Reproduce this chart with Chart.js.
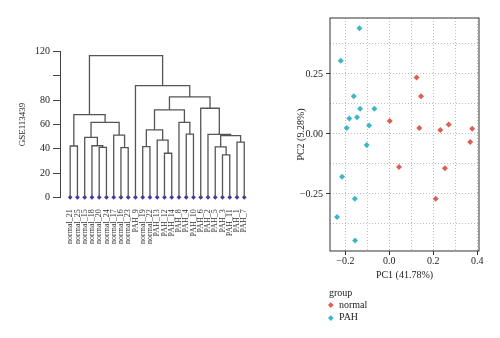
<!DOCTYPE html>
<html>
<head>
<meta charset="utf-8">
<script src="https://cdn.jsdelivr.net/npm/chart.js@4/dist/chart.umd.min.js"></script>
<style>
  html, body { margin: 0; padding: 0; background: #ffffff; }
  body { width: 500px; height: 338px; position: relative; overflow: hidden; font-family: "Liberation Serif", "DejaVu Serif", serif; color: #222; }
  #dendro { position: absolute; left: 0; top: 0; }
  #pca { position: absolute; left: 260px; top: 0; }
  .lg { position: absolute; font-size: 10px; line-height: 12px; white-space: nowrap; }
  .mk { position: absolute; width: 3.6px; height: 3.6px; transform: rotate(45deg); }
</style>
</head>
<body>
<canvas id="dendro" width="258" height="338"></canvas>
<canvas id="pca" width="240" height="338"></canvas>
<div class="lg" style="left:329px; top:287px;">group</div>
<div class="mk" style="left:329.2px; top:303.2px; background:#dd5e57;"></div>
<div class="lg" style="left:339px; top:299px;">normal</div>
<div class="mk" style="left:329.2px; top:315.5px; background:#3db6c8;"></div>
<div class="lg" style="left:339px; top:311.3px;">PAH</div>
<script>
// ---------- Dendrogram data ----------
const leafLabels = ['normal_21','normal_25','normal_15','normal_18','normal_20','normal_24','normal_17','normal_16','normal_23',
  'PAH_9','normal_19','normal_22','PAH_13','PAH_12','PAH_14','PAH_8','PAH_4','PAH_10','PAH_6','PAH_2','PAH_5','PAH_3','PAH_11','PAH_1','PAH_7'];
// merge steps: string = leaf, number = earlier merge index
const mergeA = ['normal_21','normal_20','normal_18','normal_15','normal_16','normal_17',3,0,
  'normal_19','PAH_12','PAH_13',8,'PAH_4','PAH_8',11,'PAH_3','PAH_5','PAH_1',16,'PAH_2','PAH_6',14,'PAH_9',7];
const mergeB = ['normal_25','normal_24',1,2,'normal_23',4,5,6,
  'normal_22','PAH_14',9,10,'PAH_10',12,13,'PAH_11',15,'PAH_7',17,18,19,20,21,22];
const mergeHeight = [42.3,41.2,42.5,49.4,40.9,51.3,61.8,68.1,
  41.7,36.3,47.2,55.5,52.0,61.8,72.1,34.9,41.5,45.5,50.8,51.9,73.4,82.7,92.0,116.7];
const dendroYTicks = [0,20,40,60,80,100,120];
const dendroYLabels = ['0','20','40','60','80','','120'];

// ---------- PCA data ----------
const normalPC1 = [0.002, 0.124, 0.144, 0.136, 0.232, 0.270, 0.377, 0.368, 0.044, 0.253, 0.211];
const normalPC2 = [0.054, 0.235, 0.157, 0.025, 0.017, 0.039, 0.022, -0.033, -0.138, -0.143, -0.270];
const pahPC1 = [-0.136, -0.221, -0.162, -0.133, -0.068, -0.182, -0.147, -0.194, -0.092, -0.103, -0.215, -0.157, -0.238, -0.156];
const pahPC2 = [0.440, 0.305, 0.157, 0.105, 0.105, 0.064, 0.070, 0.025, 0.035, -0.046, -0.178, -0.270, -0.346, -0.444];
const pcaXTicks = [-0.2,-0.1,0,0.1,0.2,0.3,0.4];
const pcaXLabels = ['\u22120.2','','0.0','','0.2','','0.4'];
const pcaYTicks = [-0.375,-0.25,-0.125,0,0.125,0.25,0.375];
const pcaYLabels = ['','\u22120.25','','0.00','','0.25',''];

const SERIF = '"Liberation Serif", "DejaVu Serif", serif';
Chart.defaults.font.family = SERIF;
Chart.defaults.color = '#222';

// ---------- build dendrogram ----------
const nodes = [];
function pos(ref) {
  if (typeof ref === 'string') return { x: leafLabels.indexOf(ref), y: 0 };
  return nodes[ref];
}
const dendroSets = [];
for (let i = 0; i < mergeHeight.length; i++) {
  const a = pos(mergeA[i]), b = pos(mergeB[i]), h = mergeHeight[i];
  nodes.push({ x: (a.x + b.x) / 2, y: h });
  dendroSets.push({
    data: [{x: a.x, y: a.y}, {x: a.x, y: h}, {x: b.x, y: h}, {x: b.x, y: b.y}],
    showLine: true, borderColor: '#555', borderWidth: 1.3, pointRadius: 0, fill: false, clip: false
  });
}
dendroSets.push({
  data: leafLabels.map((l, i) => ({x: i, y: 0})),
  pointStyle: 'rectRot', pointRadius: 2.4, backgroundColor: '#3a3ab0', borderWidth: 0, clip: false
});

new Chart(document.getElementById('dendro'), {
  type: 'scatter',
  data: { datasets: dendroSets },
  options: {
    responsive: false, animation: false, events: [],
    layout: { padding: { left: 12, top: 51.7, right: 8, bottom: 0 } },
    plugins: { legend: { display: false }, tooltip: { enabled: false } },
    scales: {
      x: {
        type: 'linear', min: -1.405, max: 24.5,
        afterBuildTicks: s => { s.ticks = leafLabels.map((l, i) => ({ value: i })); },
        afterFit: s => { s.height = 140.7; },
        grid: { display: false }, border: { display: false },
        ticks: { autoSkip: false, minRotation: 90, maxRotation: 90, padding: 4,
          font: { size: 8, family: SERIF }, color: '#333',
          callback: v => leafLabels[Math.round(v)] }
      },
      y: {
        type: 'linear', min: 0, max: 120,
        afterBuildTicks: s => { s.ticks = dendroYTicks.map(v => ({ value: v })); },
        afterFit: s => { s.width = 48; },
        grid: { drawOnChartArea: false, drawTicks: true, tickLength: 7, tickColor: '#444', tickWidth: 1 },
        border: { display: true, color: '#444', width: 1 },
        ticks: { padding: 3, font: { size: 10, family: SERIF }, color: '#222',
          callback: v => dendroYLabels[dendroYTicks.indexOf(v)] },
        title: { display: true, text: 'GSE113439', font: { size: 9, family: SERIF }, color: '#222', padding: { top: 5.3, bottom: 0 } }
      }
    }
  }
});

// ---------- PCA ----------
const borderPlugin = {
  id: 'panelBorder',
  afterDatasetsDraw(chart) {
    const { ctx, chartArea: a } = chart;
    ctx.save();
    ctx.strokeStyle = '#333';
    ctx.lineWidth = 1;
    ctx.strokeRect(a.left, a.top, a.right - a.left, a.bottom - a.top);
    ctx.restore();
  }
};
const isLabelled = (labels, ticks) => ctx => {
  const i = ticks.findIndex(t => Math.abs(t - ctx.tick.value) < 1e-9);
  return (i >= 0 && labels[i] !== '') ? '#333' : 'rgba(0,0,0,0)';
};

new Chart(document.getElementById('pca'), {
  type: 'scatter',
  data: {
    datasets: [
      { label: 'normal', data: normalPC1.map((v, i) => ({ x: v, y: normalPC2[i] })),
        pointStyle: 'rectRot', pointRadius: 3, backgroundColor: '#dd5e57', borderWidth: 0 },
      { label: 'PAH', data: pahPC1.map((v, i) => ({ x: v, y: pahPC2[i] })),
        pointStyle: 'rectRot', pointRadius: 3, backgroundColor: '#3db6c8', borderWidth: 0 }
    ]
  },
  options: {
    responsive: false, animation: false, events: [],
    layout: { padding: { left: 30, top: 18, right: 21, bottom: 55 } },
    plugins: { legend: { display: false }, tooltip: { enabled: false } },
    scales: {
      x: {
        type: 'linear', min: -0.27, max: 0.408,
        afterBuildTicks: s => { s.ticks = pcaXTicks.map(v => ({ value: v })); },
        afterFit: s => { s.height = 32; },
        grid: { color: '#bdbdbd', lineWidth: 1, tickLength: 4, tickWidth: 1,
          tickColor: isLabelled(pcaXLabels, pcaXTicks) },
        border: { display: false, dash: [1, 2] },
        ticks: { padding: 0, font: { size: 10, family: SERIF }, color: '#222',
          callback: v => { const i = pcaXTicks.findIndex(t => Math.abs(t - v) < 1e-9); return i >= 0 ? pcaXLabels[i] : ''; } },
        title: { display: true, text: 'PC1 (41.78%)', font: { size: 10, family: SERIF }, color: '#222', padding: { top: 0, bottom: 2 } }
      },
      y: {
        type: 'linear', min: -0.4875, max: 0.483,
        afterBuildTicks: s => { s.ticks = pcaYTicks.map(v => ({ value: v })); },
        afterFit: s => { s.width = 40; },
        grid: { color: '#bdbdbd', lineWidth: 1, tickLength: 4, tickWidth: 1,
          tickColor: isLabelled(pcaYLabels, pcaYTicks) },
        border: { display: false, dash: [1, 2] },
        ticks: { padding: 3, font: { size: 10, family: SERIF }, color: '#222',
          callback: v => { const i = pcaYTicks.findIndex(t => Math.abs(t - v) < 1e-9); return i >= 0 ? pcaYLabels[i] : ''; } },
        title: { display: true, text: 'PC2 (9.28%)', font: { size: 10, family: SERIF }, color: '#222', padding: { top: 5, bottom: 0 } }
      }
    }
  },
  plugins: [borderPlugin]
});
</script>
</body>
</html>
